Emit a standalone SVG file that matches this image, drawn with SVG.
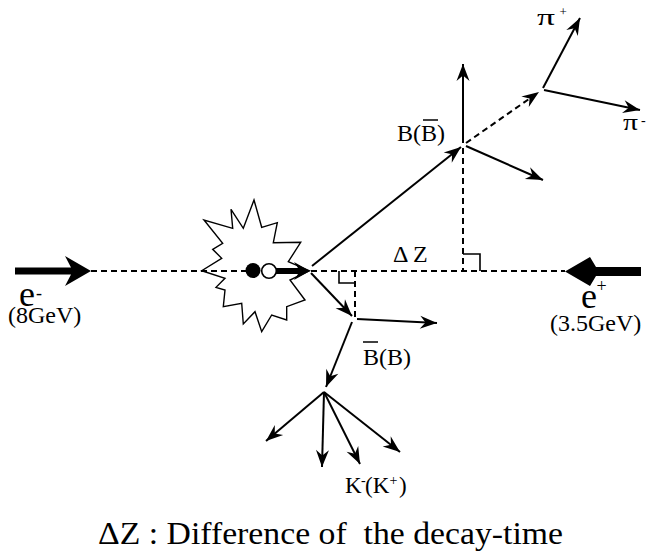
<svg xmlns="http://www.w3.org/2000/svg" width="652" height="555" viewBox="0 0 652 555">
  <style>
    .ln { fill: none; stroke: #000; stroke-width: 2; }
    .dash { fill: none; stroke: #000; stroke-width: 2; stroke-dasharray: 6 4; }
    .thin { fill: none; stroke: #000; stroke-width: 1.6; }
    text { font-family: 'Liberation Serif', 'Times New Roman', Times, serif; fill: #000; }
    .bar { stroke: #000; stroke-width: 1.5; }
  </style>
  <defs>
    <marker id="ah" viewBox="-18 -7 19 14" refX="0" refY="0" markerWidth="19" markerHeight="14" markerUnits="userSpaceOnUse" orient="auto">
      <path d="M0,0 L-17,-6.5 L-11.5,0 L-17,6.5 Z" fill="#000" stroke="none"/>
    </marker>
  </defs>

  <!-- collision region: burst -->
  <g id="collision">
    <polygon points="254,200 261.7,227.3 277.3,222.7 273.3,242.7 300.7,242.3 288.3,261.7 309.3,270.7 290,280 305,300 286.7,306.7 286.7,320 271.7,315 261.7,331.7 255,311.7 243.3,324 241.7,303.3 223.3,306.7 225,290 216,287.3 225,278.3 201.7,270.7 221.7,258.3 212.7,249.3 222.7,243.3 204,220 232.7,228.3 231,209.3 243.3,228.3" fill="#fff" stroke="#000" stroke-width="1.4" stroke-linejoin="miter"/>
  </g>

  <!-- beams -->
  <g id="beam-electron">
    <polygon points="15,267.5 71,267.5 65,256 91,271 65,286 71,274.5 15,274.5" fill="#000"/>
    <text x="19" y="306" font-family="Liberation Serif" font-size="36">e</text>
    <text x="36" y="299" font-family="Liberation Serif" font-size="18">-</text>
    <text x="8" y="323" font-family="Liberation Serif" font-size="24">(8GeV)</text>
  </g>
  <g id="beam-positron">
    <polygon points="641,267 596,267 590,257 565,271.5 590,286 596,276 641,276" fill="#000"/>
    <text x="581" y="308" font-family="Liberation Serif" font-size="36">e</text>
    <text x="596.5" y="291.5" font-family="Liberation Serif" font-size="18">+</text>
    <text x="550" y="331" font-family="Liberation Serif" font-size="24">(3.5GeV)</text>
  </g>

  <g id="connectors">
    <!-- beam axis -->
    <path class="dash" d="M91,271 H565"/>
    <!-- B meson flights -->
    <path class="ln" d="M312,266 L461,147" marker-end="url(#ah)"/>
    <path class="ln" d="M311,273 L352,316" marker-end="url(#ah)"/>
    <!-- projections onto the beam axis -->
    <path class="dash" d="M463,148 V271"/>
    <path class="thin" d="M463,254 H480 V271"/>
    <path class="dash" d="M355,271 V318"/>
    <path class="thin" d="M339,271 V283 H355"/>
    <!-- B vertex products -->
    <path class="ln" d="M463,143 V64" marker-end="url(#ah)"/>
    <path class="ln" d="M466,146 L543,180" marker-end="url(#ah)"/>
    <path class="dash" d="M466,143 L539,92" marker-end="url(#ah)"/>
    <!-- pion pair -->
    <path class="ln" d="M543,88 L580,18" marker-end="url(#ah)"/>
    <path class="ln" d="M544,90 L640,110" marker-end="url(#ah)"/>
    <!-- anti-B vertex products -->
    <path class="ln" d="M357,319 L437,323" marker-end="url(#ah)"/>
    <path class="ln" d="M352,322 L326,387" marker-end="url(#ah)"/>
    <!-- kaon vertex products -->
    <path class="ln" d="M324,392 L266,441" marker-end="url(#ah)"/>
    <path class="ln" d="M324,392 L322,467" marker-end="url(#ah)"/>
    <path class="ln" d="M324,392 L360,464" marker-end="url(#ah)"/>
    <path class="ln" d="M324,392 L400,452" marker-end="url(#ah)"/>
  </g>

  <!-- bunches and boost arrow drawn over the axis -->
  <g id="bunches">
    <circle cx="253" cy="270.5" r="7.5" fill="#000"/>
    <circle cx="269" cy="271" r="7.3" fill="#fff" stroke="#000" stroke-width="1.6"/>
    <polygon points="276,268 298,268 294,262 310,271 294,280 298,274 276,274" fill="#000"/>
  </g>

  <g id="vertex-B">
    <text x="397" y="141" font-family="Liberation Serif" font-size="24">B(B)</text>
    <line class="bar" x1="423" y1="120" x2="438" y2="120"/>
  </g>
  <g id="vertex-Bbar">
    <text x="363" y="365" font-family="Liberation Serif" font-size="24">B(B)</text>
    <line class="bar" x1="363" y1="342" x2="378" y2="342"/>
  </g>
  <g id="label-dz">
    <text x="393" y="262" font-family="Liberation Serif" font-size="24" xml:space="preserve">Δ Z</text>
  </g>
  <g id="vertex-pi">
    <text x="537" y="25" font-family="Liberation Serif" font-size="24" textLength="18" lengthAdjust="spacingAndGlyphs">π</text>
    <text x="559.5" y="15.5" font-family="Liberation Serif" font-size="13">+</text>
    <text x="623" y="130" font-family="Liberation Serif" font-size="24" textLength="15" lengthAdjust="spacingAndGlyphs">π</text>
    <text x="641" y="125" font-family="Liberation Serif" font-size="14">-</text>
  </g>
  <g id="vertex-K">
    <text font-family="Liberation Serif" font-size="23"><tspan x="345" y="493">K</tspan><tspan x="361" y="485" font-size="14">-</tspan><tspan x="365" y="493">(K</tspan><tspan x="389.5" y="485" font-size="14">+</tspan><tspan x="399" y="493">)</tspan></text>
  </g>

  <g id="caption">
    <text x="98" y="544" font-family="Liberation Serif" font-size="31" textLength="465" lengthAdjust="spacingAndGlyphs" xml:space="preserve">ΔZ : Difference of  the decay-time</text>
  </g>
</svg>
